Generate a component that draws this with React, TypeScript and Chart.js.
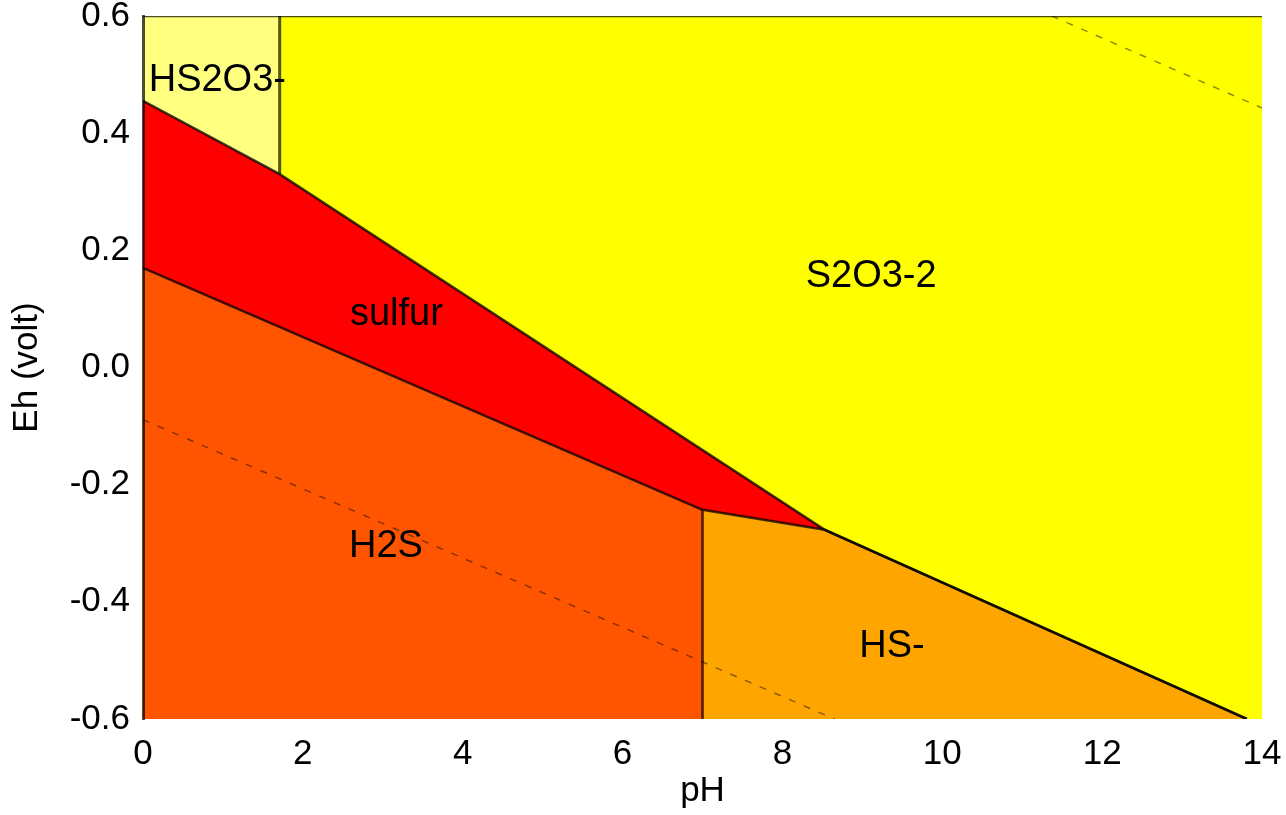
import React, { useEffect, useRef } from "react";
import { Chart, registerables } from "chart.js";

Chart.register(...registerables);

// Axis ticks
const phTicks = [0, 2, 4, 6, 8, 10, 12, 14];
const ehTicks = [-0.6, -0.4, -0.2, 0.0, 0.2, 0.4, 0.6];

// Boundary lines (pH, Eh in volt)
const upperPH = [0, 1.71, 8.53, 13.81];
const upperEh = [0.455, 0.33, -0.277, -0.6];
const hsTopPH = [7.0, 8.53, 13.81];
const hsTopEh = [-0.243, -0.277, -0.6];
const h2sTopPH = [0, 7.0];
const h2sTopEh = [0.17, -0.243];
const hs2o3EdgePH = [1.71, 1.71];
const hs2o3EdgeEh = [0.6, 0.33];
const h2sHsEdgePH = [7.0, 7.0];
const h2sHsEdgeEh = [-0.243, -0.6];
const hs2o3TopPH = [0, 1.71];
const hs2o3TopEh = [0.6, 0.6];
const frameTopPH = [0, 14];
const frameTopEh = [0.6, 0.6];

// Water stability lines
const waterLowPH = [0, 8.65];
const waterLowEh = [-0.089, -0.6];
const waterHighPH = [11.37, 14];
const waterHighEh = [0.6, 0.443];

// Region labels
const regionNames = ["HS2O3-", "S2O3-2", "sulfur", "H2S", "HS-"];
const labelPH = [0.93, 9.11, 3.17, 3.04, 9.37];
const labelEh = [0.49, 0.155, 0.09, -0.305, -0.476];

const FONT = '"Liberation Sans", Arial, sans-serif';

const pts = (xs: number[], ys: number[]) => xs.map((x, i) => ({ x, y: ys[i] }));

const labelPlugin = {
  id: "regionLabels",
  afterDatasetsDraw(chart: any) {
    const { ctx, scales } = chart;
    const xs = scales.x;
    const ys = scales.y;
    ctx.save();
    ctx.font = `38px ${FONT}`;
    ctx.fillStyle = "#000";
    ctx.textAlign = "center";
    ctx.textBaseline = "middle";
    regionNames.forEach((t, i) => {
      ctx.fillText(t, xs.getPixelForValue(labelPH[i]), ys.getPixelForValue(labelEh[i]));
    });
    ctx.restore();
  },
};

export default function App() {
  const ref = useRef<HTMLCanvasElement | null>(null);

  useEffect(() => {
    if (!ref.current) return;
    const edge = "rgba(0,0,0,0.75)";
    const dash = "rgba(0,0,0,0.45)";
    const lineDs = (xs: number[], ys: number[], color: string, width: number, d: number[] = []) => ({
      data: pts(xs, ys),
      borderColor: color,
      borderWidth: width,
      borderDash: d,
      pointRadius: 0,
      fill: false,
      tension: 0,
    });
    const fillDs = (xs: number[], ys: number[], color: string) => ({
      data: pts(xs, ys),
      borderWidth: 0,
      borderColor: "rgba(0,0,0,0)",
      backgroundColor: color,
      pointRadius: 0,
      fill: "start",
      tension: 0,
    });

    const chart = new Chart(ref.current, {
      type: "line",
      data: {
        datasets: [
          lineDs(frameTopPH, frameTopEh, "rgba(0,0,0,0.7)", 2.5),
          lineDs(waterHighPH, waterHighEh, dash, 1.5, [7, 9]),
          lineDs(waterLowPH, waterLowEh, dash, 1.5, [7, 9]),
          lineDs(h2sHsEdgePH, h2sHsEdgeEh, "rgba(40,20,0,0.7)", 3),
          lineDs(hs2o3EdgePH, hs2o3EdgeEh, "rgba(30,30,0,0.75)", 3),
          lineDs(hsTopPH, hsTopEh, edge, 2.5),
          lineDs(h2sTopPH, h2sTopEh, edge, 2.5),
          lineDs(upperPH, upperEh, edge, 2.5),
          fillDs(h2sTopPH, h2sTopEh, "#FF5500"),
          fillDs(hsTopPH, hsTopEh, "#FFA500"),
          fillDs(upperPH, upperEh, "#FF0000"),
          fillDs(hs2o3TopPH, hs2o3TopEh, "#FFFF80"),
          fillDs(frameTopPH, frameTopEh, "#FFFF00"),
        ] as any,
      },
      options: {
        responsive: false,
        animation: false,
        events: [],
        layout: { padding: { top: 16, right: 24, left: 0, bottom: 0 } },
        plugins: {
          legend: { display: false },
          tooltip: { enabled: false },
        },
        scales: {
          x: {
            type: "linear",
            min: 0,
            max: 14,
            grid: { display: false, drawTicks: false },
            border: { display: false },
            afterBuildTicks: (s: any) => {
              s.ticks = phTicks.map((v) => ({ value: v }));
            },
            afterFit: (s: any) => {
              s.height = 96;
              s.paddingLeft = 0;
              s.paddingRight = 0;
              s.paddingTop = 0;
              s.paddingBottom = 0;
            },
            ticks: {
              autoSkip: false,
              maxRotation: 0,
              padding: 14,
              color: "#000",
              font: { family: FONT, size: 35 },
              callback: (v: any) => String(v),
            },
            title: {
              display: true,
              text: "pH",
              color: "#000",
              font: { family: FONT, size: 35, lineHeight: 1 },
              padding: { top: 0, bottom: 6 },
            },
          },
          y: {
            type: "linear",
            min: -0.6,
            max: 0.6,
            grid: { display: false, drawTicks: false },
            border: { display: true, color: "rgba(0,0,0,0.7)", width: 3, z: 1 },
            afterBuildTicks: (s: any) => {
              s.ticks = ehTicks.map((v) => ({ value: v }));
            },
            afterFit: (s: any) => {
              s.width = 143;
              s.paddingLeft = 0;
              s.paddingRight = 0;
              s.paddingTop = 0;
              s.paddingBottom = 0;
            },
            ticks: {
              autoSkip: false,
              padding: 13,
              color: "#000",
              font: { family: FONT, size: 35 },
              callback: (v: any) => {
                const n = Number(v);
                return Math.abs(n) < 1e-9 ? "0.0" : n.toFixed(1);
              },
            },
            title: {
              display: true,
              text: "Eh (volt)",
              color: "#000",
              font: { family: FONT, size: 35, lineHeight: 1 },
              padding: { top: 9.7, bottom: 0 },
            },
          },
        },
      } as any,
      plugins: [labelPlugin as any],
    });
    return () => chart.destroy();
  }, []);

  return (
    <canvas
      ref={ref}
      width={1286}
      height={815}
      style={{ display: "block", position: "absolute", left: 0, top: 0 }}
    />
  );
}
